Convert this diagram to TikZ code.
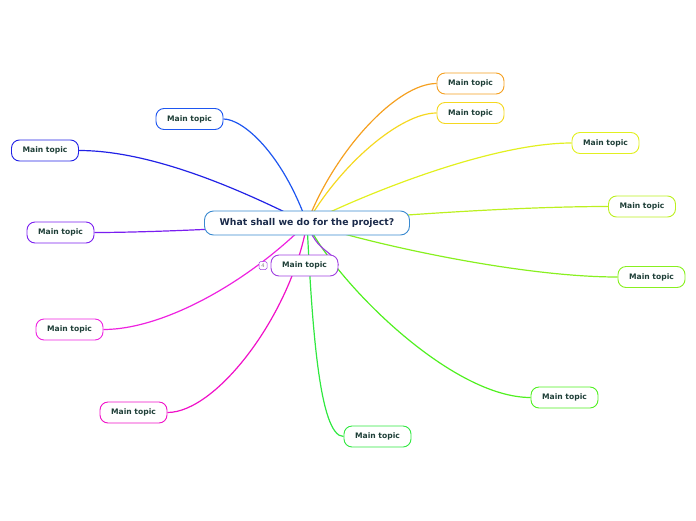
\documentclass[tikz,border=0pt]{standalone}
\usepackage{fontspec}
\setmainfont{DejaVu Sans}
\usetikzlibrary{backgrounds}
\definecolor{cblueA}{HTML}{1E56F0}
\definecolor{cblueB}{HTML}{2222E6}
\definecolor{cpurpleA}{HTML}{7A1EF0}
\definecolor{cmagA}{HTML}{EE22E0}
\definecolor{cmagB}{HTML}{F010C8}
\definecolor{cpurpleS}{HTML}{A040E0}
\definecolor{corange}{HTML}{F5A020}
\definecolor{cyellow}{HTML}{F5D820}
\definecolor{cyg}{HTML}{E2F020}
\definecolor{cyg2}{HTML}{BCF020}
\definecolor{cgreenA}{HTML}{88F020}
\definecolor{cgreenB}{HTML}{50F020}
\definecolor{cgreenC}{HTML}{30E840}
\definecolor{ctext}{HTML}{1F3F38}
\definecolor{ctitle}{HTML}{1A2A4A}
\definecolor{ccenter}{HTML}{3A8AD0}
\tikzset{
  topic/.style={draw=#1, line width=0.9pt, fill=white, rounded corners=8pt,
    minimum width=67pt, minimum height=21pt, inner sep=0pt,
    font=\fontsize{7.6}{8}\selectfont\bfseries, text=ctext},
  link/.style={draw=#1, line width=1.2pt},
}
\begin{document}
\begin{tikzpicture}[x=1pt,y=-1pt]
\useasboundingbox (0,0) rectangle (696,520);
\node[draw=ccenter, line width=0.9pt, fill=white, rounded corners=9pt,
  minimum width=205pt, minimum height=24pt, inner sep=0pt,
  font=\fontsize{9.3}{10}\selectfont\bfseries, text=ctitle] (c) at (307,223) {What shall we do for the project?};
\node[topic=corange] (t1) at (470.5,83.5) {Main topic};
\node[topic=cyellow] (t2) at (470.5,113) {Main topic};
\node[topic=cyg] (t3) at (605.5,143) {Main topic};
\node[topic=cyg2] (t4) at (642,206.5) {Main topic};
\node[topic=cgreenA] (t5) at (651.5,277) {Main topic};
\node[topic=cgreenB] (t6) at (564.5,397.5) {Main topic};
\node[topic=cgreenC] (t7) at (377.5,436.5) {Main topic};
\node[topic=cmagB] (t8) at (133.5,412.5) {Main topic};
\node[topic=cmagA] (t9) at (69.5,329.5) {Main topic};
\node[topic=cpurpleA] (t10) at (60.5,232.5) {Main topic};
\node[topic=cblueB] (t11) at (45,150.5) {Main topic};
\node[topic=cblueA] (t12) at (189.5,119) {Main topic};
\node[topic=cpurpleS] (t13) at (304.5,265.5) {Main topic};
\node[draw=cpurpleS, line width=0.5pt, fill=white, rounded corners=1.5pt,
  minimum width=8pt, minimum height=8pt, inner sep=0pt,
  font=\fontsize{5}{5}\selectfont, text=gray] (k) at (263,265.5) {4};
\begin{pgfonlayer}{background}
\draw[link=corange] (c.center) .. controls (335,150) and (397,83.5) .. (t1.west);
\draw[link=cyellow] (c.center) .. controls (340,165) and (400,113) .. (t2.west);
\draw[link=cyg] (c.center) .. controls (367,193) and (492,143) .. (t3.west);
\draw[link=cyg2] (c.center) .. controls (420,213) and (530,206.5) .. (t4.west);
\draw[link=cgreenA] (c.center) .. controls (367,243) and (518,277) .. (t5.west);
\draw[link=cgreenB] (c.center) .. controls (337,283) and (451,397.5) .. (t6.west);
\draw[link=cgreenC] (c.center) .. controls (312,323) and (319,436.5) .. (t7.west);
\draw[link=cmagB] (c.center) .. controls (292,313) and (217,412.5) .. (t8.east);
\draw[link=cmagA] (c.center) .. controls (247,283) and (163,329.5) .. (t9.east);
\draw[link=cpurpleA] (c.center) .. controls (250,228) and (150,232.5) .. (t10.east);
\draw[link=cblueB] (c.center) .. controls (257,198) and (159,150.5) .. (t11.east);
\draw[link=cblueA] (c.center) .. controls (282,153) and (243,119) .. (t12.east);
\draw[link=cpurpleS] (c.center) .. controls (317,253) and (333,250) .. (t13.east);
\end{pgfonlayer}
\end{tikzpicture}
\end{document}
